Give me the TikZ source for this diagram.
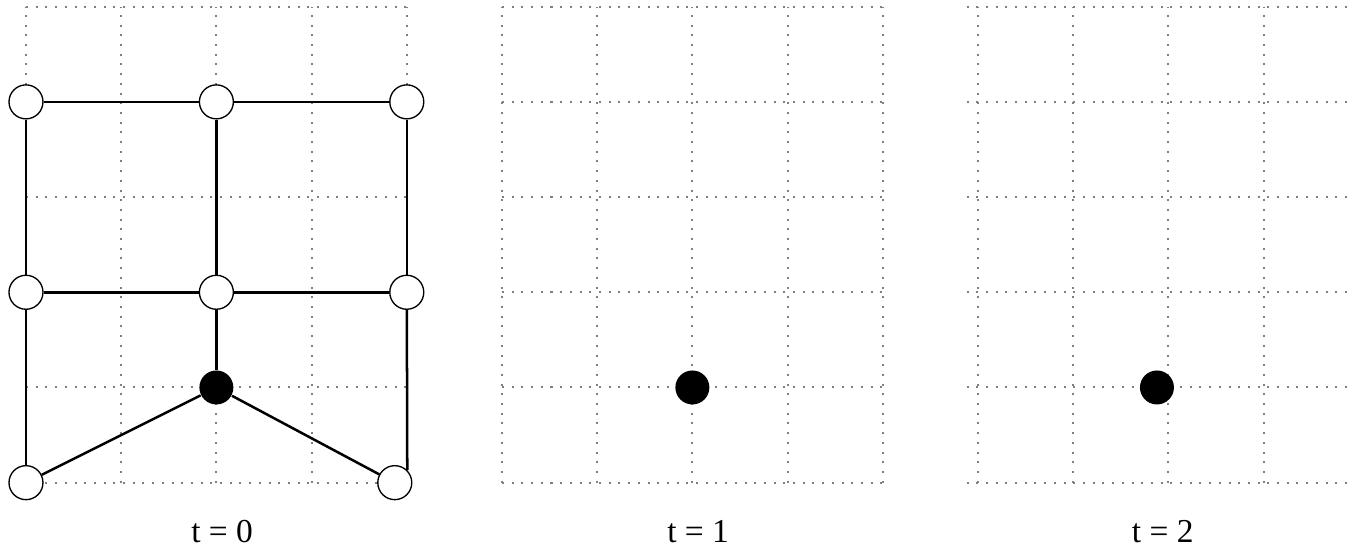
\documentclass[tikz,border=0pt]{standalone}
\usepackage{fontspec}
\setmainfont{Liberation Serif}
\usepackage{tikz}

\begin{document}
\begin{tikzpicture}[
		gridline/.style={gray, line width=0.6pt, dash pattern=on 0.6pt off 2.3pt},
		vertex/.style={circle,draw,fill=white,inner sep=0pt,minimum size=0.357cm,line width=0.4pt},
		agent/.style={circle,fill=black,inner sep=0pt,minimum size=0.357cm},
		edge/.style={line width=0.75pt}]

			\useasboundingbox (-0.273,-0.707) rectangle (13.95,5.07);

			\foreach \x/\t in {0/0, 5/1, 9.88/2} {
				\draw[gridline] (\x,0) grid (\x+4,5);
				\node[anchor=base] (t\t) at (\x+2.06,-0.633) {t = \t};
				\node[agent] (a\t) at (\x+2,1) {};
			}

			\node[vertex] (1) at (0,4) {};
			\node[vertex] (2) at (2,4) {};
			\node[vertex] (3) at (4,4) {};
			\node[vertex] (4) at (0,2) {};
			\node[vertex] (5) at (2,2) {};
			\node[vertex] (6) at (4,2) {};
			\node[vertex] (7) at (0,0) {};
			\node[vertex] (8) at (3.874,0) {};

			\draw[edge] (1) -- (2);
			\draw[edge] (2) -- (3);
			\draw[edge] (4) -- (5);
			\draw[edge] (5) -- (6);
			\draw[edge] (1) -- (4);
			\draw[edge] (2) -- (5);
			\draw[edge] (3) -- (6);
			\draw[edge] (4) -- (7);
			\draw[edge] (5) -- (a0);
			\draw[edge] (a0) -- (7);
			\draw[edge] (a0) -- (8);
			\draw[edge] (6) -- (8.north east);

		\end{tikzpicture}
\end{document}
